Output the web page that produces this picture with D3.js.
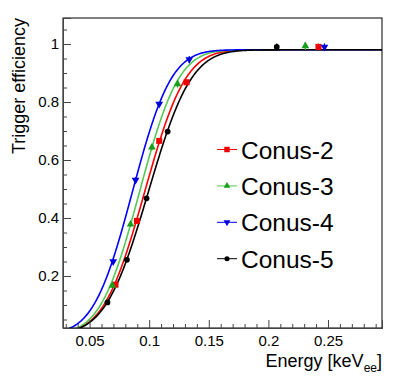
<!DOCTYPE html>
<html>
<head>
<meta charset="utf-8">
<script src="https://cdn.jsdelivr.net/npm/d3@7"></script>
<style>
  body { margin: 0; background: #fff; }
  text { font-family: "Liberation Sans", Arial, sans-serif; }
</style>
</head>
<body>
<div id="chart-area"></div>
<script>
// detector names and colours
var names = ["Conus-2", "Conus-3", "Conus-4", "Conus-5"];
var lineColors = ["#ff0000", "#55c855", "#0000ff", "#000000"];
var markColors = ["#ee0000", "#1a9e1a", "#0000dd", "#000000"];

// measured points (energy keVee, efficiency, error)
var energyC2 = [0.0717, 0.0897, 0.1084, 0.1314, 0.242];
var effC2 = [0.170, 0.390, 0.666, 0.868, 0.990];
var errC2 = [0.008, 0.010, 0.010, 0.010, 0.012];

var energyC3 = [0.0692, 0.0844, 0.1023, 0.1238, 0.231];
var effC3 = [0.167, 0.378, 0.644, 0.862, 0.993];
var errC3 = [0.006, 0.008, 0.010, 0.012, 0.014];

var energyC4 = [0.0698, 0.0886, 0.1084, 0.1336, 0.247];
var effC4 = [0.250, 0.531, 0.793, 0.947, 0.990];
var errC4 = [0.008, 0.010, 0.008, 0.012, 0.012];

var energyC5 = [0.0650, 0.0813, 0.0978, 0.1155, 0.207];
var effC5 = [0.109, 0.256, 0.468, 0.698, 0.990];
var errC5 = [0.006, 0.008, 0.008, 0.008, 0.012];

// erf fit parameters: plateau, mean, sigma
var fitPlateau = [0.98, 0.98, 0.98, 0.98];
var fitMean = [0.0962, 0.0919, 0.0859, 0.0993];
var fitSigma = [0.0270, 0.0258, 0.0256, 0.0283];

var yTicks = [0.2, 0.4, 0.6, 0.8, 1];
var xTicks = [0.05, 0.1, 0.15, 0.2, 0.25];

var series = names.map((n, i) => ({
  name: n,
  line: lineColors[i],
  mark: markColors[i],
  sym: [d3.symbolSquare, d3.symbolTriangle, d3.symbolTriangle, d3.symbolCircle][i],
  down: i == 2,
  pts: [energyC2, energyC3, energyC4, energyC5][i].map((e, j) => ({
    x: e,
    y: [effC2, effC3, effC4, effC5][i][j],
    err: [errC2, errC3, errC4, errC5][i][j]
  })),
  p0: fitPlateau[i], mu: fitMean[i], sg: fitSigma[i]
}));

var width = 399, height = 388;
var padL = 63, padR = 382, padT = 18, padB = 328;

var svg = d3.select("#chart-area").append("svg")
  .attr("width", width).attr("height", height);

var x = d3.scaleLinear().domain([0.0277, 0.2953]).range([padL, padR]);
var y = d3.scaleLinear().domain([0.0207, 1.0897]).range([padB, padT]);

// error function (Abramowitz-Stegun)
function erf(z) {
  var s = z < 0 ? -1 : 1; z = Math.abs(z);
  var t = 1 / (1 + 0.3275911 * z);
  var r = 1 - (((((1.061405429 * t - 1.453152027) * t) + 1.421413741) * t - 0.284496736) * t + 0.254829592) * t * Math.exp(-z * z);
  return s * r;
}

svg.append("clipPath").attr("id", "frame")
  .append("rect").attr("x", padL).attr("y", padT)
  .attr("width", padR - padL).attr("height", padB - padT);

// fit curves
var grid = d3.range(0, 401).map(k => x.domain()[0] + k * (x.domain()[1] - x.domain()[0]) / 400);
var line = d3.line().x(d => x(d[0])).y(d => y(d[1]));
var plot = svg.append("g").attr("clip-path", "url(#frame)");

series.forEach(s => {
  plot.append("path")
    .attr("d", line(grid.map(e => [e, s.p0 / 2 * (1 + erf((e - s.mu) / (Math.SQRT2 * s.sg)))])))
    .attr("fill", "none")
    .attr("stroke", s.line)
    .attr("stroke-width", 1.6);
});

// points with error bars
series.forEach(s => {
  var g = plot.append("g");
  g.selectAll("line").data(s.pts).enter().append("line")
    .attr("x1", d => x(d.x)).attr("x2", d => x(d.x))
    .attr("y1", d => y(d.y - d.err)).attr("y2", d => y(d.y + d.err))
    .attr("stroke", s.mark).attr("stroke-width", 1.2);
  g.selectAll("path").data(s.pts).enter().append("path")
    .attr("d", d3.symbol().type(s.sym).size(s.sym == d3.symbolSquare ? 36 : 26))
    .attr("transform", d => "translate(" + x(d.x) + "," + y(d.y) + ")" + (s.down ? " rotate(180)" : ""))
    .attr("fill", s.mark);
});

// frame
svg.append("rect")
  .attr("x", padL).attr("y", padT)
  .attr("width", padR - padL).attr("height", padB - padT)
  .attr("fill", "none").attr("stroke", "#000").attr("stroke-width", 1);

// axes
var yMinor = d3.range(0.05, 1.09, 0.05).filter(v => Math.abs(v * 5 - Math.round(v * 5)) > 1e-6);
var xMinor = d3.range(0.03, 0.296, 0.01).filter(v => Math.abs(v * 20 - Math.round(v * 20)) > 1e-6);

var leftAxis = d3.axisLeft(y).tickValues(yTicks).tickSize(-8).tickPadding(4).tickFormat(d => d + "");
svg.append("g").attr("transform", "translate(" + padL + ",0)").call(leftAxis);
svg.append("g").attr("transform", "translate(" + padL + ",0)")
  .call(d3.axisLeft(y).tickValues(yMinor).tickSize(-4).tickFormat(""));

var bottomAxis = d3.axisBottom(x).tickValues(xTicks).tickSize(-8).tickPadding(7).tickFormat(d => d + "");
svg.append("g").attr("transform", "translate(0," + padB + ")").call(bottomAxis);
svg.append("g").attr("transform", "translate(0," + padB + ")")
  .call(d3.axisBottom(x).tickValues(xMinor).tickSize(-4).tickFormat(""));

svg.selectAll(".domain").attr("stroke", "#444");
svg.selectAll(".tick line").attr("stroke", "#444");
svg.selectAll(".tick text").attr("font-size", "15px").attr("fill", "#000")
  .style("font-family", "'Liberation Sans', Arial, sans-serif");

// axis titles
svg.append("text")
  .attr("transform", "translate(25," + padT + ") rotate(-90)")
  .attr("text-anchor", "end")
  .attr("font-size", "18px")
  .text("Trigger efficiency");

var xt = svg.append("text")
  .attr("x", padR).attr("y", 367)
  .attr("text-anchor", "end")
  .attr("font-size", "18px");
xt.append("tspan").text("Energy [keV");
xt.append("tspan").attr("font-size", "12px").attr("dy", 5).text("ee");
xt.append("tspan").attr("dy", -5).text("]");

// legend
var legend = svg.append("g");
series.forEach((s, i) => {
  var ly = 149.5 + i * 36.4;
  legend.append("line")
    .attr("x1", 217).attr("x2", 237).attr("y1", ly).attr("y2", ly)
    .attr("stroke", s.line).attr("stroke-width", 1);
  legend.append("path")
    .attr("d", d3.symbol().type(s.sym).size(s.sym == d3.symbolSquare ? 30 : 20))
    .attr("transform", "translate(227," + ly + ")" + (s.down ? " rotate(180)" : ""))
    .attr("fill", s.mark);
  legend.append("text")
    .attr("x", 241).attr("y", ly + 9)
    .attr("font-size", "24.5px")
    .text(s.name);
});
</script>
</body>
</html>
